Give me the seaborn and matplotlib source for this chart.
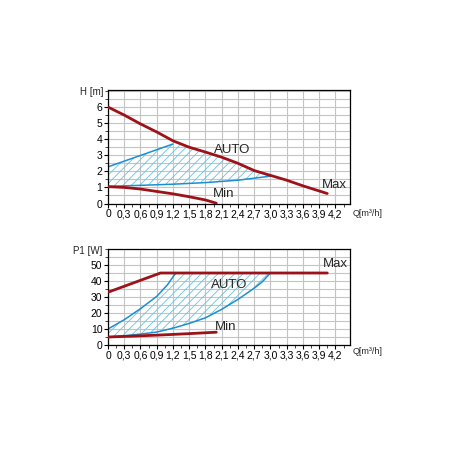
import numpy as np
import pandas as pd
import matplotlib
matplotlib.use("Agg")
import matplotlib.pyplot as plt
from matplotlib.ticker import MultipleLocator, FixedLocator
import seaborn as sns

# ---------------- data ----------------
# Head chart H [m]
h_max_q = [0, 0.3, 0.6, 0.9, 1.2, 1.5, 1.8, 2.1, 2.4, 2.7, 3.0, 3.3, 3.6, 3.9, 4.05]
h_max_h = [6.0, 5.5, 4.95, 4.45, 3.9, 3.5, 3.2, 2.88, 2.5, 2.05, 1.75, 1.45, 1.1, 0.78, 0.62]
h_min_q = [0, 0.3, 0.6, 0.9, 1.2, 1.5, 1.8, 2.0]
h_min_h = [1.05, 1.0, 0.9, 0.75, 0.6, 0.42, 0.22, 0.02]
h_auto_up_q = [0, 1.2]
h_auto_up_h = [2.28, 3.7]
h_auto_lo_q = [0, 0.3, 0.6, 1.2, 1.8, 2.4, 3.05]
h_auto_lo_h = [1.05, 1.1, 1.13, 1.2, 1.3, 1.45, 1.72]

# Power chart P1 [W]
p_max_q = [0, 0.97, 4.05]
p_max_p = [33, 45, 45]
p_min_q = [0, 0.5, 1.0, 1.5, 2.0]
p_min_p = [5, 5.6, 6.3, 7.1, 8.0]
p_auto_up_q = [0, 0.3, 0.6, 0.9, 1.1, 1.25]
p_auto_up_p = [10, 15.8, 22.7, 30.4, 37.7, 45]
p_auto_lo_q = [0, 0.3, 0.6, 0.9, 1.2, 1.5, 1.8, 2.1, 2.4, 2.7, 2.85, 3.0]
p_auto_lo_p = [5, 5.8, 6.8, 8.1, 10.5, 13.5, 17, 22.3, 28.5, 35.5, 39.5, 45]

x_ticks = [0, 0.3, 0.6, 0.9, 1.2, 1.5, 1.8, 2.1, 2.4, 2.7, 3.0, 3.3, 3.6, 3.9, 4.2]
x_tick_labels = ["0", "0,3", "0,6", "0,9", "1,2", "1,5", "1,8", "2,1", "2,4",
                 "2,7", "3,0", "3,3", "3,6", "3,9", "4,2"]
h_ticks = [0, 1, 2, 3, 4, 5, 6]
p_ticks = [0, 10, 20, 30, 40, 50]

# ---------------- style ----------------
sns.set_style("white")
plt.rcParams['font.family'] = ['Liberation Sans Narrow', 'Liberation Sans', 'DejaVu Sans']
plt.rcParams['hatch.linewidth'] = 0.6

RED = "#9c1218"
BLUE = "#1b8fd0"
HATCH = "#6cc3df"
GRID = "#c4c4c4"

fig = plt.figure(figsize=(4.5, 4.5), dpi=100)
fig.patch.set_facecolor("white")
ax1 = fig.add_axes([108/450, 1-203.5/450, 242/450, 113.5/450])
ax2 = fig.add_axes([108/450, 1-345/450, 242/450, 96/450])


def style_axes(ax, ymax, yminor, yticks):
    ax.set_xlim(0, 4.47)
    ax.set_ylim(0, ymax)
    ax.xaxis.set_major_locator(FixedLocator(x_ticks))
    ax.set_xticklabels(x_tick_labels)
    ax.xaxis.set_minor_locator(MultipleLocator(0.15))
    ax.yaxis.set_major_locator(FixedLocator(yticks))
    ax.yaxis.set_minor_locator(MultipleLocator(yminor))
    ax.grid(True, which="major", axis="x", color=GRID, lw=0.8)
    ax.grid(True, which="both", axis="y", color=GRID, lw=0.8)
    ax.set_axisbelow(True)
    ax.tick_params(which="major", direction="out", length=3, width=0.8,
                   labelsize=7.5, pad=1, colors="black")
    ax.tick_params(which="minor", direction="out", length=2, width=0.6)
    ax.tick_params(axis="x", which="both", bottom=True)
    ax.tick_params(axis="y", which="both", left=True)
    for s in ax.spines.values():
        s.set_color("black")
        s.set_linewidth(0.9)


# ---------------- top chart ----------------
style_axes(ax1, 7.06, 0.5, h_ticks)
mq = np.array(h_max_q)
mh = np.array(h_max_h)
sel = (mq > h_auto_up_q[-1]) & (mq < h_auto_lo_q[-1])
poly_x = list(h_auto_up_q) + list(mq[sel]) + [h_auto_lo_q[-1]] + list(h_auto_lo_q[::-1])
poly_y = list(h_auto_up_h) + list(mh[sel]) + [h_auto_lo_h[-1]] + list(h_auto_lo_h[::-1])
ax1.fill(poly_x, poly_y, facecolor="none", edgecolor=HATCH, hatch="////", lw=0, zorder=1)

sns.lineplot(x=h_auto_up_q, y=h_auto_up_h, ax=ax1, color=BLUE, lw=1.1, estimator=None, zorder=2)
sns.lineplot(x=h_auto_lo_q, y=h_auto_lo_h, ax=ax1, color=BLUE, lw=1.1, estimator=None, zorder=2)
sns.lineplot(x=h_max_q, y=h_max_h, ax=ax1, color=RED, lw=2.0, estimator=None, zorder=3)
sns.lineplot(x=h_min_q, y=h_min_h, ax=ax1, color=RED, lw=2.0, estimator=None, zorder=3)
ax1.set_xlabel("")
ax1.set_ylabel("")

ax1.text(2.30, 3.31, "AUTO", fontsize=9.5, ha="center", va="center")
ax1.text(4.18, 1.16, "Max", fontsize=9.5, ha="center", va="center")
ax1.text(2.14, 0.56, "Min", fontsize=9.5, ha="center", va="center")
ax1.text(-0.017, 0.98, "H [m]", transform=ax1.transAxes, fontsize=7,
         ha="right", va="center")
ax1.text(1.012, -0.084, "Q[m³/h]", transform=ax1.transAxes, fontsize=6.5,
         ha="left", va="center")

# ---------------- bottom chart ----------------
style_axes(ax2, 60, 5, p_ticks)
uq = np.array(p_auto_up_q)
lq = np.array(p_auto_lo_q)
poly_x = list(uq) + [p_auto_lo_q[-1]] + list(lq[::-1])
poly_y = list(p_auto_up_p) + [p_auto_lo_p[-1]] + list(p_auto_lo_p[::-1])
ax2.fill(poly_x, poly_y, facecolor="none", edgecolor=HATCH, hatch="////", lw=0, zorder=1)

sns.lineplot(x=p_auto_up_q, y=p_auto_up_p, ax=ax2, color=BLUE, lw=1.1, estimator=None, zorder=2)
sns.lineplot(x=p_auto_lo_q, y=p_auto_lo_p, ax=ax2, color=BLUE, lw=1.1, estimator=None, zorder=2)
sns.lineplot(x=p_max_q, y=p_max_p, ax=ax2, color=RED, lw=2.0, estimator=None, zorder=3)
sns.lineplot(x=p_min_q, y=p_min_p, ax=ax2, color=RED, lw=2.0, estimator=None, zorder=3)
ax2.set_xlabel("")
ax2.set_ylabel("")

ax2.text(2.24, 37.2, "AUTO", fontsize=9.5, ha="center", va="center")
ax2.text(4.2, 50.6, "Max", fontsize=9.5, ha="center", va="center")
ax2.text(2.18, 11.3, "Min", fontsize=9.5, ha="center", va="center")
ax2.text(-0.025, 0.975, "P1 [W]", transform=ax2.transAxes, fontsize=7,
         ha="right", va="center")
ax2.text(1.012, -0.07, "Q[m³/h]", transform=ax2.transAxes, fontsize=6.5,
         ha="left", va="center")

fig.savefig("out.png", dpi=100, facecolor="white")
